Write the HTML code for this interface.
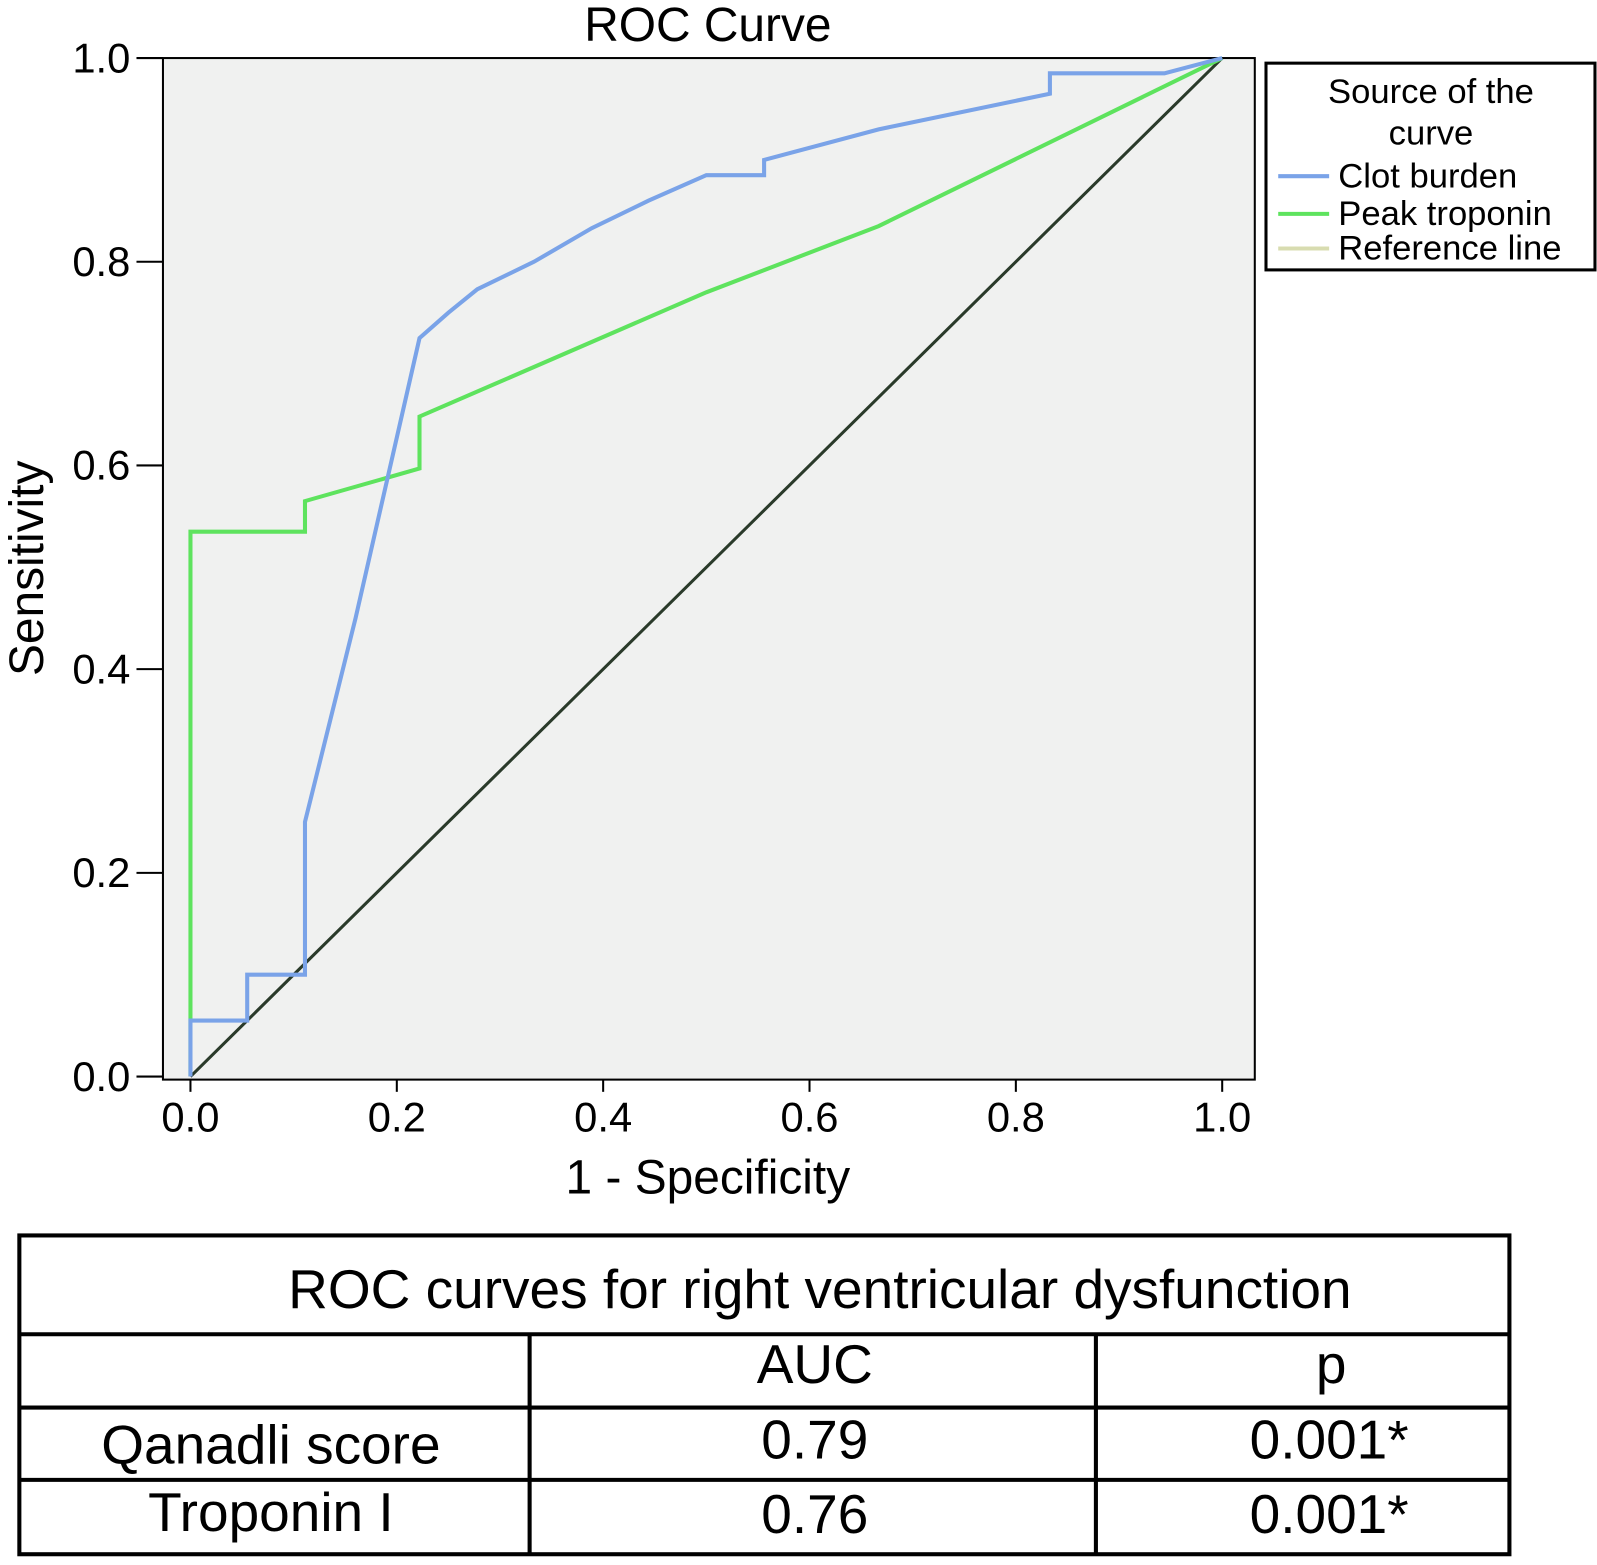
<!DOCTYPE html>
<html><head><meta charset="utf-8"><style>
body{margin:0;background:#fff;}
svg text{font-family:"Liberation Sans",sans-serif;fill:#000;}
</style></head><body>
<svg width="1597" height="1560" xmlns="http://www.w3.org/2000/svg">
<g transform="scale(1.0185)">
<text x="695" y="40" font-size="47" text-anchor="middle">ROC Curve</text>
<rect x="160" y="57" width="1072" height="1003" fill="#f0f1f0" stroke="#000" stroke-width="2"/>
<g id="axes"></g>
<g id="series"></g>
<text x="695" y="1172" font-size="47" text-anchor="middle">1 - Specificity</text>
<text transform="translate(42,558) rotate(-90)" font-size="47" text-anchor="middle">Sensitivity</text>
<g>
<rect x="1243" y="62" width="323" height="203" fill="#fff" stroke="#000" stroke-width="3"/>
<text x="1405" y="101" font-size="34" text-anchor="middle">Source of the</text>
<text x="1405" y="142" font-size="34" text-anchor="middle">curve</text>
<line x1="1255" y1="173" x2="1305" y2="173" stroke="#7aa3e8" stroke-width="4"/>
<text x="1314" y="184" font-size="34">Clot burden</text>
<line x1="1255" y1="210" x2="1305" y2="210" stroke="#5ee35e" stroke-width="4"/>
<text x="1314" y="221" font-size="34">Peak troponin</text>
<line x1="1255" y1="244" x2="1305" y2="244" stroke="#d8dcb0" stroke-width="4"/>
<text x="1314" y="255" font-size="34">Reference line</text>
</g>
<g stroke="#000" stroke-width="4" fill="none">
<rect x="19" y="1213" width="1463" height="313"/>
<line x1="19" y1="1310" x2="1482" y2="1310"/>
<line x1="19" y1="1382" x2="1482" y2="1382"/>
<line x1="19" y1="1453" x2="1482" y2="1453"/>
<line x1="520" y1="1310" x2="520" y2="1526"/>
<line x1="1076" y1="1310" x2="1076" y2="1526"/>
</g>
<g font-size="54">
<text x="805" y="1284" text-anchor="middle">ROC curves for right ventricular dysfunction</text>
<text x="800" y="1358" text-anchor="middle">AUC</text>
<text x="1307" y="1358" text-anchor="middle">p</text>
<text x="266" y="1437" text-anchor="middle">Qanadli score</text>
<text x="800" y="1432" text-anchor="middle">0.79</text>
<text x="1305" y="1432" text-anchor="middle">0.001*</text>
<text x="266" y="1503" text-anchor="middle">Troponin I</text>
<text x="800" y="1505" text-anchor="middle">0.76</text>
<text x="1305" y="1505" text-anchor="middle">0.001*</text>
</g>
</g>
</svg>
<script>
const xTicks=[0,0.2,0.4,0.6,0.8,1.0];
const yTicks=[0,0.2,0.4,0.6,0.8,1.0];
const clotX=[0,0,0.055,0.055,0.111,0.111,0.16,0.222,0.25,0.278,0.333,0.389,0.444,0.5,0.556,0.556,0.667,0.833,0.833,0.944,1];
const clotY=[0,0.055,0.055,0.10,0.10,0.25,0.45,0.725,0.75,0.773,0.80,0.833,0.86,0.885,0.885,0.90,0.93,0.965,0.985,0.985,1];
const tropX=[0,0,0.111,0.111,0.222,0.222,0.5,0.667,1];
const tropY=[0,0.535,0.535,0.565,0.597,0.648,0.77,0.835,1];
const refX=[0,1];
const refY=[0,1];
const NS='http://www.w3.org/2000/svg';
const sx=v=>187+1013*v, sy=v=>1057-1000*v;
const axes=document.getElementById('axes'), series=document.getElementById('series');
xTicks.forEach(t=>{
  const l=document.createElementNS(NS,'line');
  l.setAttribute('x1',sx(t));l.setAttribute('x2',sx(t));l.setAttribute('y1',1060);l.setAttribute('y2',1072);
  l.setAttribute('stroke','#000');l.setAttribute('stroke-width','2');
  
  
  axes.appendChild(l);
  const tx=document.createElementNS(NS,'text');
  tx.setAttribute('x',sx(t));tx.setAttribute('y',1111);tx.setAttribute('font-size','41');tx.setAttribute('text-anchor','middle');
  tx.textContent=t.toFixed(1);
  
  
  axes.appendChild(tx);
});
yTicks.forEach(t=>{
  const l=document.createElementNS(NS,'line');
  l.setAttribute('x1',134);l.setAttribute('x2',160);l.setAttribute('y1',sy(t));l.setAttribute('y2',sy(t));
  l.setAttribute('stroke','#000');l.setAttribute('stroke-width','2');
  
  
  axes.appendChild(l);
  const tx=document.createElementNS(NS,'text');
  tx.setAttribute('x',128);tx.setAttribute('y',sy(t)+14);tx.setAttribute('font-size','41');tx.setAttribute('text-anchor','end');
  tx.textContent=t.toFixed(1);
  
  
  axes.appendChild(tx);
});
function draw(xs,ys,color,w,name){
  const p=document.createElementNS(NS,'polyline');
  p.setAttribute('points',xs.map((x,i)=>sx(x)+','+sy(ys[i])).join(' '));
  p.setAttribute('fill','none');p.setAttribute('stroke',color);p.setAttribute('stroke-width',w);
  
  
  series.appendChild(p);
}
draw(refX,refY,'#2a3a2a',3,'reference-line');
draw(tropX,tropY,'#5ee35e',4,'peak-troponin-curve');
draw(clotX,clotY,'#7aa3e8',4,'clot-burden-curve');
</script>
</body></html>
